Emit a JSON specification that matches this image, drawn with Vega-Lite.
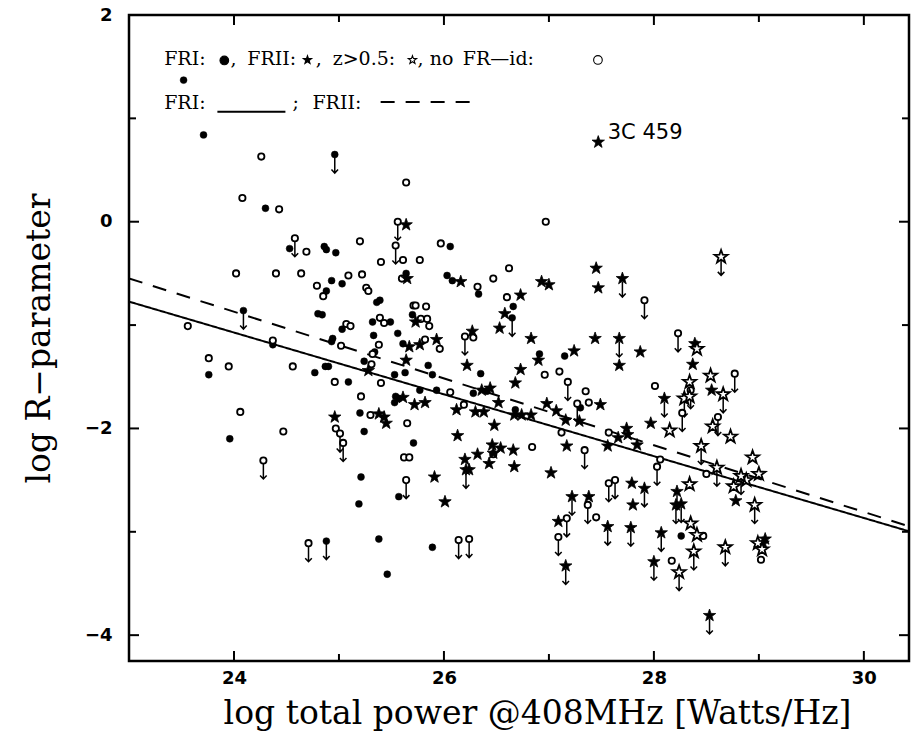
{
  "$schema": "https://vega.github.io/schema/vega-lite/v6.json",
  "width": 780,
  "height": 646,
  "autosize": {"type": "none"},
  "padding": {"left": 129, "top": 15, "right": 2, "bottom": 71},
  "background": "white",
  "config": {
    "view": {"stroke": "black", "strokeWidth": 2.5},
    "axis": {"domain": false, "grid": false, "ticks": false, "tickSize": 0,
      "labelFont": "DejaVu Sans", "labelFontWeight": "bold", "labelFontSize": 18, "labelColor": "black",
      "titleFont": "DejaVu Serif", "titleFontWeight": "normal", "titleFontSize": 33, "titleColor": "black"}
  },
  "datasets": {
    "pts": [
      {"x":23.52,"y":1.37,"t":"F1","l":0},{"x":23.71,"y":0.84,"t":"F1","l":0},{"x":24.96,"y":0.65,"t":"F1","l":1},{"x":24.30,"y":0.13,"t":"F1","l":0},{"x":24.53,"y":-0.26,"t":"F1","l":0},{"x":24.86,"y":-0.24,"t":"F1","l":0},{"x":24.88,"y":-0.27,"t":"F1","l":0},{"x":24.97,"y":-0.30,"t":"F1","l":0},{"x":24.93,"y":-0.57,"t":"F1","l":0},{"x":25.03,"y":-0.60,"t":"F1","l":0},{"x":24.88,"y":-0.67,"t":"F1","l":0},{"x":25.39,"y":-0.76,"t":"F1","l":0},{"x":25.36,"y":-0.78,"t":"F1","l":0},{"x":24.80,"y":-0.89,"t":"F1","l":0},{"x":24.84,"y":-0.90,"t":"F1","l":0},{"x":25.32,"y":-0.97,"t":"F1","l":0},{"x":25.03,"y":-1.04,"t":"F1","l":0},{"x":24.09,"y":-0.86,"t":"F1","l":1},{"x":24.37,"y":-1.19,"t":"F1","l":0},{"x":23.76,"y":-1.48,"t":"F1","l":0},{"x":24.87,"y":-1.40,"t":"F1","l":0},{"x":24.90,"y":-1.40,"t":"F1","l":0},{"x":24.77,"y":-1.46,"t":"F1","l":0},{"x":25.09,"y":-1.55,"t":"F1","l":0},{"x":24.94,"y":-1.13,"t":"F1","l":0},{"x":24.93,"y":-1.16,"t":"F1","l":0},{"x":25.33,"y":-1.10,"t":"F1","l":0},{"x":25.34,"y":-1.26,"t":"F1","l":0},{"x":25.24,"y":-1.35,"t":"F1","l":0},{"x":25.20,"y":-1.85,"t":"F1","l":0},{"x":23.96,"y":-2.10,"t":"F1","l":0},{"x":25.24,"y":-2.03,"t":"F1","l":0},{"x":25.21,"y":-2.47,"t":"F1","l":0},{"x":25.19,"y":-2.73,"t":"F1","l":0},{"x":24.88,"y":-3.09,"t":"F1","l":1},{"x":25.38,"y":-3.07,"t":"F1","l":0},{"x":25.46,"y":-3.41,"t":"F1","l":0},{"x":25.89,"y":-3.15,"t":"F1","l":0},{"x":26.06,"y":-0.24,"t":"F1","l":0},{"x":25.64,"y":-0.50,"t":"F1","l":0},{"x":26.03,"y":-0.52,"t":"F1","l":0},{"x":26.08,"y":-0.57,"t":"F1","l":0},{"x":26.33,"y":-0.70,"t":"F1","l":0},{"x":26.66,"y":-0.82,"t":"F1","l":0},{"x":26.65,"y":-0.93,"t":"F1","l":1},{"x":25.70,"y":-0.90,"t":"F1","l":0},{"x":25.49,"y":-0.97,"t":"F1","l":0},{"x":25.56,"y":-1.08,"t":"F1","l":0},{"x":25.61,"y":-1.18,"t":"F1","l":0},{"x":25.85,"y":-1.39,"t":"F1","l":0},{"x":25.89,"y":-1.48,"t":"F1","l":0},{"x":25.63,"y":-1.46,"t":"F1","l":0},{"x":25.53,"y":-1.48,"t":"F1","l":0},{"x":25.77,"y":-1.63,"t":"F1","l":0},{"x":25.93,"y":-1.63,"t":"F1","l":0},{"x":26.35,"y":-1.47,"t":"F1","l":0},{"x":26.91,"y":-1.28,"t":"F1","l":0},{"x":27.15,"y":-1.30,"t":"F1","l":0},{"x":25.54,"y":-1.69,"t":"F1","l":0},{"x":25.57,"y":-1.71,"t":"F1","l":0},{"x":25.53,"y":-1.75,"t":"F1","l":0},{"x":25.71,"y":-2.14,"t":"F1","l":0},{"x":25.57,"y":-2.66,"t":"F1","l":0},{"x":26.28,"y":-1.66,"t":"F1","l":0},{"x":26.41,"y":-1.64,"t":"F1","l":0},{"x":26.68,"y":-1.82,"t":"F1","l":0},{"x":27.30,"y":-1.80,"t":"F1","l":0},{"x":28.26,"y":-3.04,"t":"F1","l":0},
      {"x":24.26,"y":0.63,"t":"N","l":0},{"x":24.08,"y":0.23,"t":"N","l":0},{"x":24.43,"y":0.12,"t":"N","l":0},{"x":24.58,"y":-0.16,"t":"N","l":1},{"x":24.69,"y":-0.29,"t":"N","l":0},{"x":25.20,"y":-0.19,"t":"N","l":0},{"x":25.40,"y":-0.39,"t":"N","l":0},{"x":24.02,"y":-0.50,"t":"N","l":0},{"x":24.40,"y":-0.50,"t":"N","l":0},{"x":24.64,"y":-0.50,"t":"N","l":0},{"x":25.09,"y":-0.52,"t":"N","l":0},{"x":25.22,"y":-0.51,"t":"N","l":0},{"x":24.79,"y":-0.62,"t":"N","l":0},{"x":24.85,"y":-0.72,"t":"N","l":0},{"x":25.26,"y":-0.64,"t":"N","l":0},{"x":25.28,"y":-0.67,"t":"N","l":0},{"x":25.39,"y":-0.93,"t":"N","l":0},{"x":25.43,"y":-0.98,"t":"N","l":0},{"x":23.56,"y":-1.01,"t":"N","l":0},{"x":25.07,"y":-0.99,"t":"N","l":0},{"x":25.11,"y":-1.01,"t":"N","l":0},{"x":24.37,"y":-1.15,"t":"N","l":0},{"x":23.76,"y":-1.32,"t":"N","l":0},{"x":23.95,"y":-1.40,"t":"N","l":0},{"x":24.56,"y":-1.40,"t":"N","l":0},{"x":24.96,"y":-1.55,"t":"N","l":0},{"x":25.02,"y":-1.20,"t":"N","l":0},{"x":25.38,"y":-1.19,"t":"N","l":0},{"x":25.32,"y":-1.28,"t":"N","l":0},{"x":25.31,"y":-1.38,"t":"N","l":0},{"x":25.40,"y":-1.56,"t":"N","l":0},{"x":25.21,"y":-1.69,"t":"N","l":0},{"x":25.30,"y":-1.87,"t":"N","l":0},{"x":24.06,"y":-1.84,"t":"N","l":0},{"x":24.47,"y":-2.03,"t":"N","l":0},{"x":24.28,"y":-2.31,"t":"N","l":1},{"x":24.97,"y":-2.00,"t":"N","l":0},{"x":25.01,"y":-2.05,"t":"N","l":1},{"x":25.04,"y":-2.14,"t":"N","l":1},{"x":24.71,"y":-3.11,"t":"N","l":1},{"x":26.14,"y":-3.08,"t":"N","l":1},{"x":26.24,"y":-3.07,"t":"N","l":1},{"x":25.64,"y":0.38,"t":"N","l":0},{"x":26.97,"y":0.00,"t":"N","l":0},{"x":25.56,"y":0.00,"t":"N","l":1},{"x":25.54,"y":-0.23,"t":"N","l":1},{"x":25.97,"y":-0.21,"t":"N","l":0},{"x":25.61,"y":-0.37,"t":"N","l":0},{"x":25.77,"y":-0.37,"t":"N","l":0},{"x":25.60,"y":-0.55,"t":"N","l":0},{"x":26.32,"y":-0.63,"t":"N","l":0},{"x":26.47,"y":-0.55,"t":"N","l":0},{"x":26.62,"y":-0.45,"t":"N","l":0},{"x":26.60,"y":-0.73,"t":"N","l":0},{"x":27.91,"y":-0.76,"t":"N","l":1},{"x":25.71,"y":-0.81,"t":"N","l":0},{"x":25.73,"y":-0.81,"t":"N","l":0},{"x":25.83,"y":-0.82,"t":"N","l":0},{"x":25.78,"y":-0.94,"t":"N","l":0},{"x":25.84,"y":-0.94,"t":"N","l":0},{"x":25.86,"y":-1.01,"t":"N","l":0},{"x":25.82,"y":-1.14,"t":"N","l":0},{"x":25.96,"y":-1.23,"t":"N","l":0},{"x":26.20,"y":-1.11,"t":"N","l":1},{"x":26.28,"y":-1.12,"t":"N","l":0},{"x":26.96,"y":-1.48,"t":"N","l":0},{"x":27.10,"y":-1.45,"t":"N","l":0},{"x":27.18,"y":-1.55,"t":"N","l":1},{"x":27.35,"y":-1.64,"t":"N","l":0},{"x":27.38,"y":-1.75,"t":"N","l":0},{"x":26.06,"y":-1.65,"t":"N","l":0},{"x":25.65,"y":-1.95,"t":"N","l":0},{"x":25.62,"y":-2.28,"t":"N","l":0},{"x":25.67,"y":-2.28,"t":"N","l":0},{"x":25.64,"y":-2.50,"t":"N","l":1},{"x":26.19,"y":-1.77,"t":"N","l":0},{"x":27.27,"y":-1.76,"t":"N","l":1},{"x":27.12,"y":-2.04,"t":"N","l":0},{"x":27.57,"y":-2.04,"t":"N","l":0},{"x":26.84,"y":-2.18,"t":"N","l":0},{"x":27.34,"y":-2.21,"t":"N","l":1},{"x":26.47,"y":-2.25,"t":"N","l":0},{"x":27.57,"y":-2.53,"t":"N","l":1},{"x":27.63,"y":-2.50,"t":"N","l":1},{"x":27.37,"y":-2.74,"t":"N","l":1},{"x":27.45,"y":-2.86,"t":"N","l":0},{"x":27.17,"y":-2.87,"t":"N","l":1},{"x":27.09,"y":-3.05,"t":"N","l":1},{"x":28.17,"y":-3.28,"t":"N","l":0},{"x":28.47,"y":-3.04,"t":"N","l":0},{"x":28.23,"y":-1.08,"t":"N","l":1},{"x":28.01,"y":-1.59,"t":"N","l":0},{"x":28.35,"y":-1.63,"t":"N","l":1},{"x":28.77,"y":-1.47,"t":"N","l":1},{"x":28.27,"y":-1.85,"t":"N","l":1},{"x":28.61,"y":-1.89,"t":"N","l":1},{"x":28.06,"y":-2.30,"t":"N","l":0},{"x":28.03,"y":-2.37,"t":"N","l":1},{"x":28.50,"y":-2.44,"t":"N","l":0},{"x":29.02,"y":-3.27,"t":"N","l":0},
      {"x":27.47,"y":0.77,"t":"F2","l":0},{"x":25.64,"y":-0.03,"t":"F2","l":0},{"x":25.65,"y":-0.55,"t":"F2","l":0},{"x":26.16,"y":-0.58,"t":"F2","l":0},{"x":26.73,"y":-0.71,"t":"F2","l":0},{"x":26.58,"y":-0.89,"t":"F2","l":0},{"x":26.93,"y":-0.58,"t":"F2","l":0},{"x":27.00,"y":-0.61,"t":"F2","l":0},{"x":27.45,"y":-0.45,"t":"F2","l":0},{"x":27.47,"y":-0.64,"t":"F2","l":0},{"x":27.70,"y":-0.55,"t":"F2","l":1},{"x":25.73,"y":-0.97,"t":"F2","l":0},{"x":26.27,"y":-1.06,"t":"F2","l":0},{"x":26.53,"y":-1.03,"t":"F2","l":0},{"x":25.93,"y":-1.14,"t":"F2","l":0},{"x":25.67,"y":-1.21,"t":"F2","l":0},{"x":25.77,"y":-1.19,"t":"F2","l":0},{"x":25.64,"y":-1.34,"t":"F2","l":0},{"x":26.22,"y":-1.39,"t":"F2","l":0},{"x":26.73,"y":-1.43,"t":"F2","l":0},{"x":26.68,"y":-1.56,"t":"F2","l":0},{"x":26.83,"y":-1.13,"t":"F2","l":0},{"x":26.90,"y":-1.34,"t":"F2","l":0},{"x":27.24,"y":-1.25,"t":"F2","l":0},{"x":27.44,"y":-1.13,"t":"F2","l":0},{"x":27.67,"y":-1.13,"t":"F2","l":1},{"x":27.67,"y":-1.39,"t":"F2","l":0},{"x":27.87,"y":-1.26,"t":"F2","l":0},{"x":27.49,"y":-1.77,"t":"F2","l":0},{"x":25.28,"y":-1.44,"t":"F2","l":0},{"x":25.38,"y":-1.86,"t":"F2","l":0},{"x":25.43,"y":-1.89,"t":"F2","l":0},{"x":25.45,"y":-1.95,"t":"F2","l":0},{"x":24.96,"y":-1.89,"t":"F2","l":0},{"x":25.61,"y":-1.70,"t":"F2","l":0},{"x":25.72,"y":-1.77,"t":"F2","l":0},{"x":25.82,"y":-1.75,"t":"F2","l":0},{"x":25.91,"y":-2.47,"t":"F2","l":0},{"x":26.01,"y":-2.71,"t":"F2","l":0},{"x":26.12,"y":-1.82,"t":"F2","l":0},{"x":26.13,"y":-2.07,"t":"F2","l":0},{"x":26.36,"y":-1.63,"t":"F2","l":0},{"x":26.44,"y":-1.61,"t":"F2","l":0},{"x":26.30,"y":-1.84,"t":"F2","l":0},{"x":26.38,"y":-1.84,"t":"F2","l":0},{"x":26.48,"y":-1.97,"t":"F2","l":0},{"x":26.52,"y":-1.75,"t":"F2","l":0},{"x":26.67,"y":-1.87,"t":"F2","l":0},{"x":26.74,"y":-1.87,"t":"F2","l":0},{"x":26.83,"y":-1.87,"t":"F2","l":0},{"x":26.98,"y":-1.76,"t":"F2","l":0},{"x":27.07,"y":-1.83,"t":"F2","l":0},{"x":27.16,"y":-1.92,"t":"F2","l":0},{"x":27.29,"y":-1.93,"t":"F2","l":0},{"x":27.74,"y":-2.00,"t":"F2","l":0},{"x":27.75,"y":-2.06,"t":"F2","l":0},{"x":27.66,"y":-2.09,"t":"F2","l":0},{"x":27.56,"y":-2.17,"t":"F2","l":0},{"x":27.84,"y":-2.16,"t":"F2","l":0},{"x":27.17,"y":-2.17,"t":"F2","l":0},{"x":26.20,"y":-2.30,"t":"F2","l":0},{"x":26.21,"y":-2.40,"t":"F2","l":1},{"x":26.24,"y":-2.40,"t":"F2","l":0},{"x":26.32,"y":-2.25,"t":"F2","l":0},{"x":26.46,"y":-2.16,"t":"F2","l":0},{"x":26.47,"y":-2.24,"t":"F2","l":0},{"x":26.43,"y":-2.34,"t":"F2","l":0},{"x":26.54,"y":-2.19,"t":"F2","l":0},{"x":26.66,"y":-2.21,"t":"F2","l":0},{"x":26.67,"y":-2.37,"t":"F2","l":0},{"x":27.02,"y":-2.43,"t":"F2","l":0},{"x":27.79,"y":-2.53,"t":"F2","l":0},{"x":27.91,"y":-2.58,"t":"F2","l":1},{"x":27.80,"y":-2.74,"t":"F2","l":0},{"x":27.22,"y":-2.66,"t":"F2","l":1},{"x":27.38,"y":-2.66,"t":"F2","l":0},{"x":27.09,"y":-2.90,"t":"F2","l":0},{"x":27.56,"y":-2.95,"t":"F2","l":1},{"x":27.78,"y":-2.96,"t":"F2","l":1},{"x":27.16,"y":-3.33,"t":"F2","l":1},{"x":28.21,"y":-2.74,"t":"F2","l":1},{"x":28.07,"y":-3.01,"t":"F2","l":1},{"x":28.00,"y":-3.29,"t":"F2","l":1},{"x":28.53,"y":-3.81,"t":"F2","l":1},{"x":28.78,"y":-2.70,"t":"F2","l":0},{"x":28.39,"y":-1.18,"t":"F2","l":0},{"x":28.37,"y":-1.38,"t":"F2","l":0},{"x":28.55,"y":-1.63,"t":"F2","l":0},{"x":28.10,"y":-1.71,"t":"F2","l":1},{"x":27.97,"y":-1.95,"t":"F2","l":0},{"x":28.22,"y":-2.61,"t":"F2","l":1},{"x":28.26,"y":-2.73,"t":"F2","l":1},{"x":29.04,"y":-3.11,"t":"F2","l":0},{"x":29.06,"y":-3.07,"t":"F2","l":0},
      {"x":28.64,"y":-0.34,"t":"Z","l":1},{"x":28.41,"y":-1.23,"t":"Z","l":0},{"x":28.34,"y":-1.55,"t":"Z","l":0},{"x":28.29,"y":-1.71,"t":"Z","l":1},{"x":28.34,"y":-1.69,"t":"Z","l":0},{"x":28.54,"y":-1.49,"t":"Z","l":0},{"x":28.66,"y":-1.67,"t":"Z","l":1},{"x":28.15,"y":-2.02,"t":"Z","l":0},{"x":28.56,"y":-1.98,"t":"Z","l":0},{"x":28.73,"y":-2.08,"t":"Z","l":0},{"x":28.45,"y":-2.17,"t":"Z","l":1},{"x":28.60,"y":-2.38,"t":"Z","l":1},{"x":28.94,"y":-2.28,"t":"Z","l":0},{"x":29.00,"y":-2.44,"t":"Z","l":0},{"x":28.34,"y":-2.54,"t":"Z","l":0},{"x":28.88,"y":-2.50,"t":"Z","l":0},{"x":28.83,"y":-2.46,"t":"Z","l":1},{"x":28.76,"y":-2.56,"t":"Z","l":0},{"x":28.96,"y":-2.74,"t":"Z","l":1},{"x":28.35,"y":-2.92,"t":"Z","l":0},{"x":28.41,"y":-3.03,"t":"Z","l":0},{"x":28.38,"y":-3.19,"t":"Z","l":1},{"x":28.68,"y":-3.15,"t":"Z","l":1},{"x":28.24,"y":-3.39,"t":"Z","l":1},{"x":28.99,"y":-3.11,"t":"Z","l":0},{"x":29.03,"y":-3.17,"t":"Z","l":0}
    ],
    "fits": [
      {"x":23,"y":-0.773,"g":"FRI","k":"fit1"},{"x":30.43,"y":-2.995,"g":"FRI","k":"fit1"},
      {"x":23,"y":-0.548,"g":"FRII","k":"fit2"},{"x":30.43,"y":-2.947,"g":"FRII","k":"fit2"},
      {"x":23.842,"y":1.063,"g":"FRI","k":"key1"},{"x":24.49,"y":1.063,"g":"FRI","k":"key1"},
      {"x":25.397,"y":1.159,"g":"FRII","k":"key2"},{"x":26.256,"y":1.159,"g":"FRII","k":"key2"}
    ],
    "xmaj": [{"v":24},{"v":26},{"v":28},{"v":30}],
    "xmin": [{"v":25},{"v":27},{"v":29}],
    "ymaj": [{"v":-4},{"v":-2},{"v":0}],
    "ymin": [{"v":-3},{"v":-1},{"v":1}],
    "keysym": [
      {"x":23.908,"y":1.56,"t":"F1"},
      {"x":24.70,"y":1.565,"t":"F2"},
      {"x":25.70,"y":1.565,"t":"Z"},
      {"x":27.467,"y":1.565,"t":"N"}
    ],
    "notes": [
      {"x":23.335,"y":1.575,"label":"FRI:"},
      {"x":23.967,"y":1.575,"label":","},
      {"x":24.127,"y":1.575,"label":"FRII:"},
      {"x":24.78,"y":1.575,"label":","},
      {"x":24.94,"y":1.575,"label":"z>0.5:"},
      {"x":25.749,"y":1.575,"label":","},
      {"x":25.864,"y":1.575,"label":"no"},
      {"x":26.18,"y":1.575,"label":"FR—id:"},
      {"x":23.335,"y":1.15,"label":"FRI:"},
      {"x":24.557,"y":1.15,"label":";"},
      {"x":24.747,"y":1.15,"label":"FRII:"}
    ],
    "src": [
      {"x":27.56,"y":0.86,"label":"3C 459"}
    ]
  },
  "layer": [
    {
      "data": {"name": "fits"},
      "mark": {"type": "line", "stroke": "black", "strokeWidth": 2, "clip": true},
      "encoding": {
        "x": {"field": "x", "type": "quantitative", "scale": {"domain": [23, 30.43], "nice": false, "zero": false}, "axis": null},
        "y": {"field": "y", "type": "quantitative", "scale": {"domain": [-4.25, 2], "nice": false, "zero": false}, "axis": null},
        "detail": {"field": "k"},
        "strokeDash": {"field": "g", "type": "nominal", "scale": {"domain": ["FRI", "FRII"], "range": [[1, 0], [14, 11]]}, "legend": null}
      }
    },
    {
      "data": {"name": "xmaj"},
      "layer": [
        {"mark": {"type": "tick", "orient": "vertical", "size": 20, "thickness": 2, "color": "black", "opacity": 1, "clip": true},
         "encoding": {"x": {"field": "v", "type": "quantitative", "axis": null}, "y": {"datum": -4.25, "type": "quantitative", "axis": null}}},
        {"mark": {"type": "tick", "orient": "vertical", "size": 20, "thickness": 2, "color": "black", "opacity": 1, "clip": true},
         "encoding": {"x": {"field": "v", "type": "quantitative", "axis": null}, "y": {"datum": 2, "type": "quantitative", "axis": null}}}
      ]
    },
    {
      "data": {"name": "xmin"},
      "layer": [
        {"mark": {"type": "tick", "orient": "vertical", "size": 14, "thickness": 2, "color": "black", "opacity": 1, "clip": true},
         "encoding": {"x": {"field": "v", "type": "quantitative", "axis": null}, "y": {"datum": -4.25, "type": "quantitative", "axis": null}}},
        {"mark": {"type": "tick", "orient": "vertical", "size": 14, "thickness": 2, "color": "black", "opacity": 1, "clip": true},
         "encoding": {"x": {"field": "v", "type": "quantitative", "axis": null}, "y": {"datum": 2, "type": "quantitative", "axis": null}}}
      ]
    },
    {
      "data": {"name": "ymaj"},
      "layer": [
        {"mark": {"type": "tick", "orient": "horizontal", "size": 20, "thickness": 2, "color": "black", "opacity": 1, "clip": true},
         "encoding": {"y": {"field": "v", "type": "quantitative", "axis": null}, "x": {"datum": 23, "type": "quantitative", "axis": null}}},
        {"mark": {"type": "tick", "orient": "horizontal", "size": 20, "thickness": 2, "color": "black", "opacity": 1, "clip": true},
         "encoding": {"y": {"field": "v", "type": "quantitative", "axis": null}, "x": {"datum": 30.43, "type": "quantitative", "axis": null}}}
      ]
    },
    {
      "data": {"name": "ymin"},
      "layer": [
        {"mark": {"type": "tick", "orient": "horizontal", "size": 14, "thickness": 2, "color": "black", "opacity": 1, "clip": true},
         "encoding": {"y": {"field": "v", "type": "quantitative", "axis": null}, "x": {"datum": 23, "type": "quantitative", "axis": null}}},
        {"mark": {"type": "tick", "orient": "horizontal", "size": 14, "thickness": 2, "color": "black", "opacity": 1, "clip": true},
         "encoding": {"y": {"field": "v", "type": "quantitative", "axis": null}, "x": {"datum": 30.43, "type": "quantitative", "axis": null}}}
      ]
    },
    {
      "data": {"name": "pts"},
      "transform": [{"filter": "datum.l == 1"}],
      "mark": {"type": "point", "filled": false, "stroke": "black", "strokeWidth": 1.5, "size": 400, "opacity": 1,
        "shape": "M0,0.3L0,1.85M-0.33,1.5L0,1.85L0.33,1.5"},
      "encoding": {
        "x": {"field": "x", "type": "quantitative", "axis": null},
        "y": {"field": "y", "type": "quantitative", "axis": null}
      }
    },
    {
      "data": {"name": "pts"},
      "mark": {"type": "point", "filled": true, "stroke": "black", "opacity": 1},
      "encoding": {
        "x": {"field": "x", "type": "quantitative",
          "axis": {"orient": "bottom", "values": [24, 26, 28, 30],
            "labelPadding": 8, "title": "log total power @408MHz [Watts/Hz]", "titlePadding": 10, "titleX": 408}},
        "y": {"field": "y", "type": "quantitative",
          "axis": {"orient": "left", "values": [-4, -2, 0, 2],
            "labelPadding": 17, "title": "log R−parameter", "titlePadding": 28}},
        "shape": {"field": "t", "type": "nominal", "legend": null,
          "scale": {"type": "ordinal", "domain": ["F1", "F2", "Z", "N"], "range": ["circle",
            "M0,-1L0.235,-0.324L0.951,-0.309L0.38,0.124L0.588,0.809L0,0.4L-0.588,0.809L-0.38,0.124L-0.951,-0.309L-0.235,-0.324Z",
            "M0,-1L0.235,-0.324L0.951,-0.309L0.38,0.124L0.588,0.809L0,0.4L-0.588,0.809L-0.38,0.124L-0.951,-0.309L-0.235,-0.324Z",
            "circle"]}},
        "fill": {"field": "t", "type": "nominal", "legend": null,
          "scale": {"type": "ordinal", "domain": ["F1", "F2", "Z", "N"], "range": ["black", "black", "white", "white"]}},
        "size": {"field": "t", "type": "nominal", "legend": null,
          "scale": {"type": "ordinal", "domain": ["F1", "F2", "Z", "N"], "range": [48, 170, 190, 40]}},
        "strokeWidth": {"field": "t", "type": "nominal", "legend": null,
          "scale": {"type": "ordinal", "domain": ["F1", "F2", "Z", "N"], "range": [0.5, 0.8, 1.8, 1.8]}}
      }
    },
    {
      "data": {"name": "keysym"},
      "mark": {"type": "point", "filled": true, "stroke": "black", "strokeWidth": 1.1, "opacity": 1, "size": 75},
      "encoding": {
        "x": {"field": "x", "type": "quantitative", "axis": null},
        "y": {"field": "y", "type": "quantitative", "axis": null},
        "shape": {"field": "t", "type": "nominal", "legend": null},
        "fill": {"field": "t", "type": "nominal", "legend": null}
      }
    },
    {
      "data": {"name": "notes"},
      "mark": {"type": "text", "align": "left", "baseline": "middle", "font": "DejaVu Serif", "fontSize": 19, "color": "black"},
      "encoding": {
        "x": {"field": "x", "type": "quantitative", "axis": null},
        "y": {"field": "y", "type": "quantitative", "axis": null},
        "text": {"field": "label"}
      }
    },
    {
      "data": {"name": "src"},
      "mark": {"type": "text", "align": "left", "baseline": "middle", "font": "DejaVu Sans", "fontSize": 21, "color": "black"},
      "encoding": {
        "x": {"field": "x", "type": "quantitative", "axis": null},
        "y": {"field": "y", "type": "quantitative", "axis": null},
        "text": {"field": "label"}
      }
    }
  ],
  "resolve": {"axis": {"x": "independent", "y": "independent"}}
}
